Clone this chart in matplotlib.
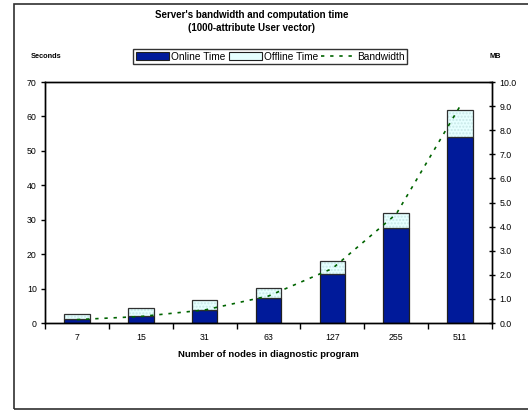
import matplotlib.pyplot as plt
from matplotlib.patches import Rectangle, Patch
from matplotlib.lines import Line2D
import numpy as np

# --- Plot Config ---
plt.rcParams.update({
    "font.family": ["Liberation Sans", "DejaVu Sans"],
    "font.size": 6,
    "axes.linewidth": 1,
})

# --- Data ---
nodes = ['7', '15', '31', '63', '127', '255', '511']
online_time = [1.2, 2.0, 3.8, 7.4, 14.3, 27.5, 54.0]
offline_time = [1.4, 2.4, 2.8, 2.9, 3.8, 4.4, 8.0]
bandwidth_mb = [0.14, 0.27, 0.54, 1.12, 2.26, 4.52, 9.0]

online_color = '#001A9A'
offline_color = '#E6FFFF'
line_color = '#006400'

# --- Create figure and axis ---
fig = plt.figure(figsize=(5.28, 4.11), dpi=100)
ax = fig.add_axes([45 / 528, 1 - 323 / 411, 447 / 528, 241 / 411])
ax2 = ax.twinx()

x = np.arange(len(nodes))
w = 0.4
ax.bar(x, online_time, width=w, color=online_color, edgecolor='#202020', linewidth=0.9, zorder=2)
ax.bar(x, offline_time, width=w, bottom=online_time, color=offline_color,
       edgecolor='#C8E8E8', linewidth=0, hatch='.....', zorder=2)
ax.bar(x, offline_time, width=w, bottom=online_time, fill=False,
       edgecolor='#303030', linewidth=0.9, zorder=3)

ax2.plot(x, bandwidth_mb, color=line_color, linestyle=(0, (2, 3.5)), linewidth=1.2, zorder=4)

# --- Axis Limits ---
ax.set_xlim(-0.5, len(nodes) - 0.5)
ax.set_ylim(0, 70)
ax2.set_ylim(0, 10)

# --- Ticks ---
ax.set_xticks(x)
ax.set_xticklabels(nodes)
ax.set_xticks(np.arange(-0.5, len(nodes), 1.0), minor=True)
ax.tick_params(axis='x', which='major', length=0, pad=7, labelsize=6.3)
ax.tick_params(axis='x', which='minor', length=4, width=1, direction='out')
ax.set_yticks(np.arange(0, 71, 10))
ax.tick_params(axis='y', which='major', length=3, width=1, direction='out', labelsize=6.3, pad=3)
ax2.set_yticks(np.arange(0, 10.1, 1.0))
ax2.set_yticklabels([f"{v:.1f}" for v in np.arange(0, 10.1, 1.0)])
ax2.tick_params(axis='y', length=5, width=1, direction='inout', labelsize=6.3, pad=3)

# --- Labels and Title ---
ax.set_xlabel("Number of nodes in diagnostic program", fontsize=6.8, fontweight='bold', labelpad=6)
fig.text(252 / 528, 1 - 21.5 / 411, "Server's bandwidth and computation time\n(1000-attribute User vector)",
         ha='center', va='center', fontsize=7, fontweight='bold', linespacing=1.45)
fig.text(46 / 528, 1 - 57 / 411, "Seconds", ha='center', va='center', fontsize=5.3, fontweight='bold')
fig.text(495 / 528, 1 - 57 / 411, "MB", ha='center', va='center', fontsize=5.3, fontweight='bold')

# --- Legend ---
handles = [
    Patch(facecolor=online_color, edgecolor='#202020', linewidth=0.8),
    Patch(facecolor=offline_color, edgecolor='#202020', linewidth=0.8),
    Line2D([0], [0], color=line_color, linestyle=(0, (2, 3.5)), linewidth=1.2),
]
leg = fig.legend(handles, ["Online Time", "Offline Time", "Bandwidth"], ncol=3,
                 loc='center', bbox_to_anchor=(270 / 528, 1 - 56.5 / 411), fontsize=7.3,
                 frameon=True, fancybox=False, handlelength=3.3, handletextpad=0.2,
                 columnspacing=0.3, borderpad=0.25, handleheight=0.9)
leg.get_frame().set_edgecolor('black')
leg.get_frame().set_linewidth(1)

# --- Outer chart border ---
fig.patches.append(Rectangle((14 / 528, 2 / 411), 530 / 528, 405 / 411, transform=fig.transFigure,
                             fill=False, edgecolor='#303030', linewidth=1.2))

# --- Save figure ---
plt.savefig("out.png", dpi=100)
